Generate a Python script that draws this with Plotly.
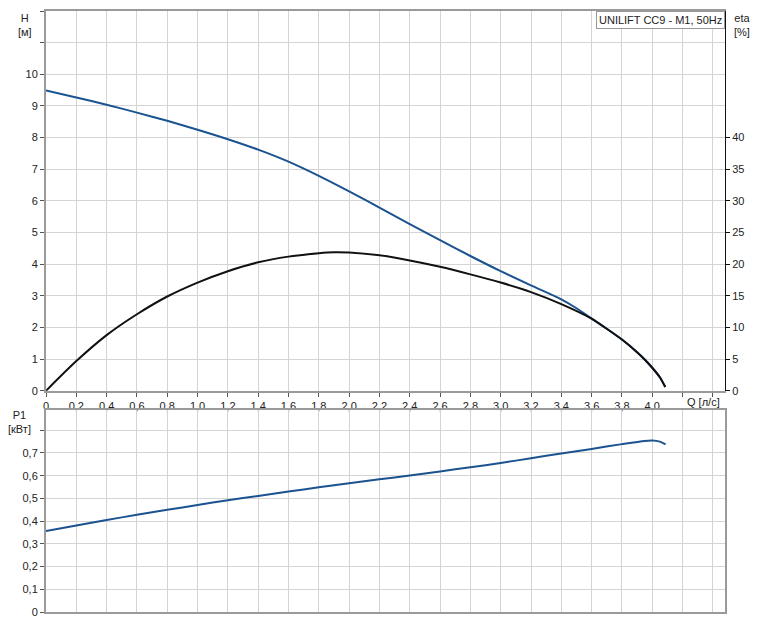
import plotly.graph_objects as go

# pump curves
q_h = [0, 0.2, 0.4, 0.6, 0.8, 1.0, 1.2, 1.4, 1.6, 1.8, 2.0, 2.2, 2.4, 2.6, 2.8,
       3.0, 3.2, 3.4, 3.5, 3.6, 3.7, 3.8, 3.9, 3.95, 4.0, 4.05, 4.086]
head = [9.49, 9.27, 9.04, 8.79, 8.53, 8.25, 7.95, 7.62, 7.24, 6.79, 6.30, 5.79, 5.27, 4.76, 4.26,
        3.78, 3.33, 2.89, 2.61, 2.28, 1.96, 1.62, 1.22, 0.99, 0.73, 0.43, 0.12]

q_eta = [0, 0.2, 0.4, 0.6, 0.8, 1.0, 1.2, 1.4, 1.6, 1.8, 1.9, 2.0, 2.2, 2.4, 2.6, 2.8,
         3.0, 3.2, 3.4, 3.6, 3.7, 3.8, 3.9, 3.95, 4.0, 4.05, 4.086]
eta = [0, 4.7, 8.8, 12.1, 14.9, 17.1, 18.9, 20.3, 21.2, 21.75, 21.9, 21.85, 21.4, 20.6, 19.6, 18.4,
       17.1, 15.6, 13.7, 11.4, 9.8, 8.1, 6.1, 4.95, 3.65, 2.15, 0.6]

q_p = [0, 0.2, 0.4, 0.6, 0.8, 1.0, 1.2, 1.4, 1.6, 1.8, 2.0, 2.2, 2.4, 2.6, 2.8,
       3.0, 3.2, 3.4, 3.6, 3.8, 3.95, 4.0, 4.05, 4.088]
p1 = [0.356, 0.381, 0.405, 0.428, 0.45, 0.471, 0.492, 0.511, 0.53, 0.549, 0.567, 0.584, 0.601, 0.619, 0.637,
      0.656, 0.677, 0.698, 0.718, 0.739, 0.753, 0.755, 0.75, 0.738]

q_ticks = [round(i * 0.2, 1) for i in range(23)]
q_labels = ["0"] + [("%.1f" % v).replace(".", ",") for v in q_ticks[1:21]] + ["", ""]
h_ticks = list(range(13))
h_labels = [str(v) for v in range(11)] + ["", ""]
eta_ticks = list(range(0, 45, 5))
p_ticks = [round(i * 0.1, 1) for i in range(9)]
p_labels = ["0"] + [("%.1f" % v).replace(".", ",") for v in p_ticks[1:8]] + [""]

BLUE = "#1b5390"
GRID = "#d4d4d4"
AXIS = "#9a9a9a"
FONT = dict(family="Liberation Sans, Arial, sans-serif", size=11, color="#222")

fig = go.Figure()
fig.add_trace(go.Scatter(x=q_h, y=head, mode="lines",
                         line=dict(color=BLUE, width=2, shape="spline", smoothing=0.8),
                         xaxis="x", yaxis="y", showlegend=False))
fig.add_trace(go.Scatter(x=q_eta, y=eta, mode="lines",
                         line=dict(color="#111", width=2, shape="spline", smoothing=0.8),
                         xaxis="x", yaxis="y2", showlegend=False))
fig.add_trace(go.Scatter(x=q_p, y=p1, mode="lines",
                         line=dict(color=BLUE, width=2, shape="spline", smoothing=0.8),
                         xaxis="x2", yaxis="y3", showlegend=False))

# page body has an 8px margin, so the figure is a little smaller and shifted
fig.update_layout(
    width=751, height=618,
    margin=dict(l=38, r=34, t=1, b=14),
    plot_bgcolor="white", paper_bgcolor="white",
    font=FONT,
    xaxis=dict(domain=[0, 1], anchor="y", range=[0, 4.48], tickvals=q_ticks, ticktext=q_labels,
               ticks="outside", ticklen=4, tickcolor="#555", showline=True, linecolor=AXIS, linewidth=2,
               mirror=True, gridcolor=GRID, zeroline=False),
    yaxis=dict(domain=[0.368, 1], anchor="x", range=[0, 12], tickvals=h_ticks, ticktext=h_labels,
               ticks="outside", ticklen=4, tickcolor="#555", showline=True, linecolor=AXIS, linewidth=2,
               gridcolor=GRID, zeroline=False),
    yaxis2=dict(overlaying="y", anchor="x", side="right", range=[0, 60], tickvals=eta_ticks,
                ticks="outside", ticklen=4, tickcolor="#111", showline=True, linecolor="#111", linewidth=1,
                showgrid=False, zeroline=False),
    xaxis2=dict(domain=[0, 1], anchor="y3", matches="x", range=[0, 4.48], tickvals=q_ticks,
                showticklabels=False, showline=True, linecolor=AXIS, linewidth=2, mirror=True,
                gridcolor=GRID, zeroline=False),
    yaxis3=dict(domain=[0, 0.336], anchor="x2", range=[0, 0.889], tickvals=p_ticks, ticktext=p_labels,
                ticks="outside", ticklen=4, tickcolor="#555", showline=True, linecolor=AXIS, linewidth=2,
                mirror=True, gridcolor=GRID, zeroline=False),
    annotations=[
        dict(text="H<br>[м]", xref="paper", yref="paper", x=-0.031, y=1, xanchor="center", yanchor="top",
             yshift=1, showarrow=False),
        dict(text="eta<br>[%]", xref="paper", yref="paper", x=1.025, y=1, xanchor="center", yanchor="top",
             yshift=1, showarrow=False),
        dict(text="P1<br>[кВт]", xref="paper", yref="paper", x=-0.039, y=0.336, xanchor="center",
             yanchor="top", yshift=3, showarrow=False),
        dict(text="UNILIFT CC9 - M1, 50Hz", xref="paper", yref="paper", x=1, y=1, xanchor="right",
             yanchor="top", showarrow=False, bgcolor="white", bordercolor=AXIS, borderwidth=1, borderpad=2),
        dict(text="Q [л/с]", xref="paper", yref="paper", x=1, y=0.368, xanchor="right", yanchor="top",
             xshift=-3, yshift=-3, showarrow=False),
    ],
)

fig.write_html("out.html")
